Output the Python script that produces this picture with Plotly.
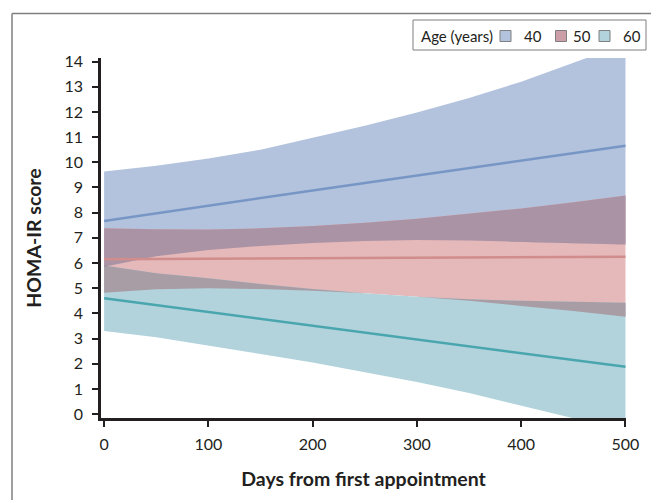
import plotly.graph_objects as go

# ---- data ----
days = [0, 50, 100, 150, 200, 250, 300, 350, 400, 450, 500]

age40_mean = [7.67, 7.98, 8.28, 8.58, 8.88, 9.18, 9.48, 9.78, 10.07, 10.37, 10.66]
age40_upper = [9.63, 9.86, 10.15, 10.50, 10.97, 11.45, 11.98, 12.55, 13.20, 13.95, 14.70]
age40_lower = [5.85, 6.27, 6.52, 6.68, 6.80, 6.88, 6.92, 6.90, 6.86, 6.80, 6.74]

age50_mean = [6.15, 6.16, 6.17, 6.18, 6.19, 6.20, 6.21, 6.22, 6.23, 6.24, 6.25]
age50_upper = [7.38, 7.34, 7.33, 7.38, 7.47, 7.60, 7.76, 7.95, 8.17, 8.41, 8.68]
age50_lower = [4.82, 4.96, 5.00, 4.97, 4.90, 4.80, 4.66, 4.50, 4.30, 4.10, 3.87]

age60_mean = [4.60, 4.33, 4.06, 3.78, 3.51, 3.24, 2.97, 2.70, 2.42, 2.15, 1.88]
age60_upper = [5.90, 5.60, 5.40, 5.17, 4.97, 4.80, 4.66, 4.56, 4.50, 4.45, 4.42]
age60_lower = [3.30, 3.06, 2.72, 2.39, 2.05, 1.68, 1.28, 0.84, 0.34, -0.15, -0.66]

legend_title = "Age (years)"
age_labels = ["40", "50", "60"]
x_ticks = [0, 100, 200, 300, 400, 500]
y_ticks = list(range(0, 15))

# ---- styles ----
band_colors = ["#B3C3DD", "#E5B8B9", "#B2D3DC"]
line_colors = ["#7896C5", "#D08D8C", "#4AA6AE"]
legend_colors = ["#B3C3DD", "#CB9EA8", "#B2D3DC"]
col_40_50 = "#AA93A5"
col_50_60 = "#A89CA5"
col_triple = "#8F879F"
ink = "#231F20"
frame_col = "#7F7F7F"
FONT = "Lato"

# plot area in page pixels
W, H = 651, 500
PL, PR, PT, PB = 101, 626, 58, 418


def paper_x(px):
    return (px - PL) / (PR - PL)


def paper_y(py):
    return (PB - py) / (PB - PT)


def band_polygon(x, lo, hi):
    return list(x) + list(x)[::-1], list(hi) + list(lo)[::-1]


def overlap_polygon(x, lo_a, hi_a, lo_b, hi_b):
    lo = [max(a, b) for a, b in zip(lo_a, lo_b)]
    hi = [min(a, b) for a, b in zip(hi_a, hi_b)]
    d = [h - l for h, l in zip(hi, lo)]
    xs, los, his = [], [], []
    for i in range(len(x)):
        if i > 0 and d[i - 1] * d[i] < 0:
            t = d[i - 1] / (d[i - 1] - d[i])
            xc = x[i - 1] + t * (x[i] - x[i - 1])
            yc = lo[i - 1] + t * (lo[i] - lo[i - 1])
            xs.append(xc); los.append(yc); his.append(yc)
        xs.append(x[i]); los.append(lo[i]); his.append(max(hi[i], lo[i]))
    return xs + xs[::-1], his + los[::-1]


fig = go.Figure()

bands = [(age40_lower, age40_upper), (age50_lower, age50_upper), (age60_lower, age60_upper)]
for (lo, hi), c in zip(bands, band_colors):
    px_, py_ = band_polygon(days, lo, hi)
    fig.add_trace(go.Scatter(x=px_, y=py_, fill="toself", fillcolor=c, mode="lines",
                             line=dict(width=0, color=c), hoverinfo="skip", showlegend=False))

overlaps = [
    ((age40_lower, age40_upper, age50_lower, age50_upper), col_40_50),
    ((age50_lower, age50_upper, age60_lower, age60_upper), col_50_60),
    ((age40_lower, age40_upper, age60_lower, age60_upper), col_triple),
]
for (la, ha, lb, hb), c in overlaps:
    px_, py_ = overlap_polygon(days, la, ha, lb, hb)
    fig.add_trace(go.Scatter(x=px_, y=py_, fill="toself", fillcolor=c, mode="lines",
                             line=dict(width=0, color=c), hoverinfo="skip", showlegend=False))

for m, c, lab in zip([age40_mean, age50_mean, age60_mean], line_colors, age_labels):
    fig.add_trace(go.Scatter(x=days, y=m, mode="lines", line=dict(color=c, width=2.5),
                             name=lab, hoverinfo="skip", showlegend=False))

# ---- frame + legend built from shapes and text ----
shapes = [
    dict(type="line", xref="paper", yref="paper", x0=paper_x(12), x1=paper_x(12),
         y0=paper_y(520), y1=paper_y(13.5), line=dict(color=frame_col, width=1.5)),
    dict(type="line", xref="paper", yref="paper", x0=paper_x(12), x1=paper_x(670),
         y0=paper_y(13.5), y1=paper_y(13.5), line=dict(color=frame_col, width=1.5)),
    dict(type="rect", xref="paper", yref="paper", x0=paper_x(413), x1=paper_x(646),
         y0=paper_y(50), y1=paper_y(20), line=dict(color=frame_col, width=1), fillcolor="white"),
]
annotations = [
    dict(text=legend_title, xref="paper", yref="paper", x=paper_x(419), y=paper_y(35.5),
         xanchor="left", yanchor="middle", showarrow=False,
         font=dict(family=FONT, size=15, color=ink)),
]
swatch_left = [500, 555.5, 599]
text_left = [522, 571, 621]
for sl, tl, c, lab in zip(swatch_left, text_left, legend_colors, age_labels):
    shapes.append(dict(type="rect", xref="paper", yref="paper", x0=paper_x(sl), x1=paper_x(sl + 11),
                       y0=paper_y(41.5), y1=paper_y(30.5), line=dict(color=frame_col, width=1),
                       fillcolor=c))
    annotations.append(dict(text=lab, xref="paper", yref="paper", x=paper_x(tl), y=paper_y(35.5),
                            xanchor="left", yanchor="middle", showarrow=False,
                            font=dict(family=FONT, size=15, color=ink)))

fig.update_layout(
    width=W, height=H,
    margin=dict(l=PL, r=W - PR, t=PT, b=H - PB, autoexpand=False),
    paper_bgcolor="white", plot_bgcolor="white",
    font=dict(family=FONT, size=16, color=ink),
    showlegend=False,
    hovermode=False,
    xaxis=dict(range=[-3, 500.5], tickmode="array", tickvals=x_ticks,
               ticks="outside", ticklen=6, tickwidth=2, tickcolor=ink, ticklabelstandoff=4,
               showline=True, linewidth=2.5, linecolor=ink, showgrid=False, zeroline=False,
               tickfont=dict(family=FONT, size=16, color=ink),
               title=dict(text="<b>Days from first appointment</b>", standoff=21,
                          font=dict(family=FONT, size=19.5, color=ink))),
    yaxis=dict(range=[-0.15, 14.14], tickmode="array", tickvals=y_ticks,
               ticks="outside", ticklen=6, tickwidth=2, tickcolor=ink, ticklabelstandoff=6,
               showline=True, linewidth=2.5, linecolor=ink, showgrid=False, zeroline=False,
               tickfont=dict(family=FONT, size=16, color=ink),
               title=dict(text="<b>HOMA-IR score</b>", standoff=18,
                          font=dict(family=FONT, size=19.5, color=ink))),
    shapes=shapes,
    annotations=annotations,
)

fig.write_html("out.html",
               config={"displayModeBar": False},
               post_script="document.body.style.margin='0';document.body.style.overflow='hidden';")
